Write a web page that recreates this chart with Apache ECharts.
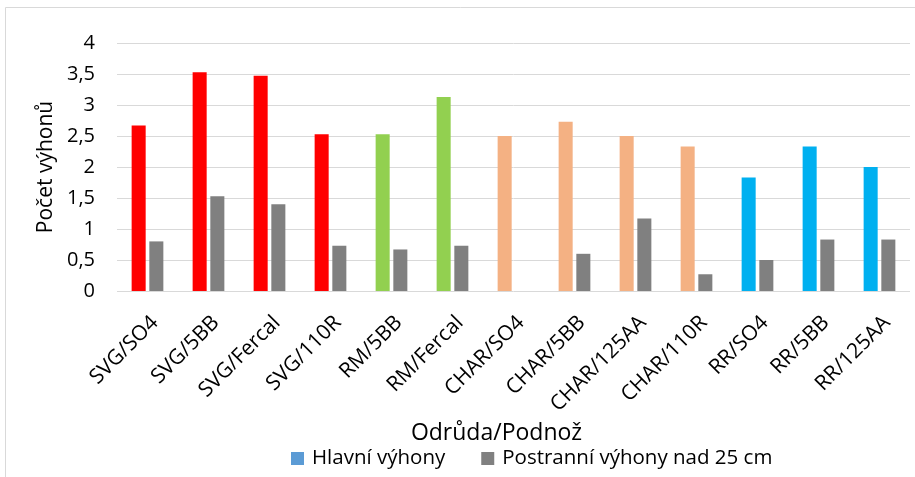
<!DOCTYPE html>
<html><head><meta charset="utf-8">
<script src="https://cdn.jsdelivr.net/npm/echarts@6/dist/echarts.min.js"></script>
<style>html,body{margin:0;padding:0;background:#fff}#c{width:915px;height:477px}</style>
</head><body><div id="c"></div>
<script>
const categories = ['SVG/SO4','SVG/5BB','SVG/Fercal','SVG/110R','RM/5BB','RM/Fercal','CHAR/SO4','CHAR/5BB','CHAR/125AA','CHAR/110R','RR/SO4','RR/5BB','RR/125AA'];
const mainShoots = [2.67,3.53,3.47,2.53,2.53,3.13,2.5,2.73,2.5,2.33,1.83,2.33,2];
const sideShoots = [0.8,1.53,1.4,0.73,0.67,0.73,0,0.6,1.17,0.27,0.5,0.83,0.83];
const yTicks = [0,0.5,1,1.5,2,2.5,3,3.5,4];
const seriesNames = ['Hlavní výhony','Postranní výhony nad 25 cm'];

const varietyColors = {SVG:'#FF0000', RM:'#92D050', CHAR:'#F4B183', RR:'#00B0F0'};
const FONT = '"Open Sans", Lato, sans-serif';
const chart = echarts.init(document.getElementById('c'));
chart.setOption({
  animation:false,
  graphic:[{type:'rect',shape:{x:5.5,y:7.5,width:1000,height:1000},style:{fill:'none',stroke:'#D9D9D9',lineWidth:1}}],
  grid:{left:117,right:5,top:43,bottom:186},
  legend:{left:286,top:443,itemWidth:13,itemHeight:13,itemGap:36,icon:'rect',
    textStyle:{fontFamily:FONT,fontSize:20.5,color:'#000',padding:[0,0,0,3]},data:seriesNames},
  xAxis:{type:'category',data:categories,
    axisLine:{show:false},axisTick:{show:false},
    axisLabel:{rotate:45,verticalAlign:'top',align:'right',fontFamily:FONT,fontSize:21,color:'#000',margin:21,interval:0},
    name:'Odrůda/Podnož',nameLocation:'middle',nameGap:117,
    nameTextStyle:{fontFamily:FONT,fontSize:23,color:'#000',padding:[0,34,0,0]}},
  yAxis:{type:'value',min:0,max:4,interval:0.5,
    axisLine:{show:false},axisTick:{show:false},
    splitLine:{lineStyle:{color:'#D9D9D9',width:1}},
    axisLabel:{fontFamily:FONT,fontSize:20,color:'#000',margin:22,
      formatter:v=>yTicks.includes(v)?String(v).replace('.',','):''},
    name:'Počet výhonů',nameLocation:'middle',nameGap:60,
    nameTextStyle:{fontFamily:FONT,fontSize:21,color:'#000'}},
  series:[
    {name:seriesNames[0],type:'bar',barGap:'26%',barCategoryGap:'48%',itemStyle:{color:'#5B9BD5'},
      data:mainShoots.map((v,i)=>({value:v,itemStyle:{color:varietyColors[categories[i].split('/')[0]]}}))},
    {name:seriesNames[1],type:'bar',itemStyle:{color:'#808080'},data:sideShoots}
  ]
});
</script></body></html>
